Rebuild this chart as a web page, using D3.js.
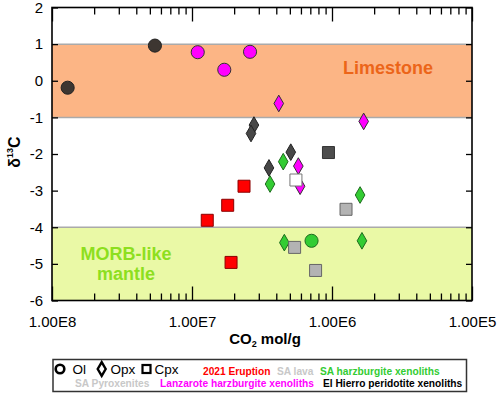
<!DOCTYPE html>
<html>
<head>
  <meta charset="utf-8">
  <style>
    body { margin: 0; background: #fff; }
    svg { font-family: "Liberation Sans", Arial, sans-serif; }
  </style>
  <title>d13C vs CO2</title>
</head>
<body>
  <script src="https://cdn.jsdelivr.net/npm/d3@7"></script>
  <svg width="498" height="394"></svg>

  <script>
    // x axis ticks (log, reversed) and y ticks
    var xMajor = [1e8, 1e7, 1e6, 1e5],
        xLabels = ["1.00E8", "1.00E7", "1.00E6", "1.00E5"],
        yTicks = [-6, -5, -4, -3, -2, -1, 0, 1, 2];

    // data: [CO2 mol/g, d13C]
    var elHierroOl  = [[7.73e7, -0.19], [1.84e7, 0.96]];
    var elHierroOpx = [[3.61e6, -1.21], [3.79e6, -1.44], [1.97e6, -1.95], [2.82e6, -2.38]];
    var elHierroCpx = [[1.06e6, -1.96]];
    var lanzaroteOl  = [[9.1e6, 0.78], [5.88e6, 0.30], [3.85e6, 0.79]];
    var lanzaroteOpx = [[2.40e6, -0.62], [5.94e5, -1.11], [1.74e6, -2.33], [1.69e6, -2.88]];
    var saHarzOl  = [[1.40e6, -4.37]];
    var saHarzOpx = [[2.23e6, -2.21], [2.77e6, -2.82], [6.3e5, -3.12], [2.19e6, -4.42], [6.11e5, -4.37]];
    var saLavaCpx = [[1.81e6, -2.71]];
    var saPyroxCpx = [[7.94e5, -3.51], [1.85e6, -4.55], [1.31e6, -5.18]];
    var eruptionCpx = [[4.25e6, -2.88], [5.56e6, -3.40], [7.78e6, -3.81], [5.26e6, -4.96]];

    var svg = d3.select("svg");
    var pLeft = 52, pRight = 472, pTop = 7.5, pBottom = 300.5;

    var x = d3.scaleLog().domain([1e8, 1e5]).range([pLeft, pRight]),
        y = d3.scaleLinear().domain([-6, 2]).range([pBottom, pTop]);

    // minor ticks (mirrored like in the original)
    var xMinor = [];
    [1e8, 1e7, 1e6].forEach(function(D) {
      for (var k = 2; k <= 9; k++) xMinor.push(D / k);
    });

    // bands
    svg.append("rect")
       .attr("x", pLeft).attr("width", pRight - pLeft)
       .attr("y", y(1)).attr("height", y(-1) - y(1))
       .attr("fill", "#fcb585");
    svg.append("rect")
       .attr("x", pLeft).attr("width", pRight - pLeft)
       .attr("y", y(-4)).attr("height", y(-6) - y(-4))
       .attr("fill", "#eaf9a6");
    [1, -1, -4].forEach(function(v) {
      svg.append("line")
         .attr("x1", pLeft).attr("x2", pRight)
         .attr("y1", y(v)).attr("y2", y(v))
         .attr("stroke", "#aaa").attr("stroke-width", 1.5);
    });

    svg.append("text")
       .attr("x", 388).attr("y", 74)
       .attr("text-anchor", "middle")
       .attr("font-weight", "bold").attr("font-size", 18)
       .attr("fill", "#ec6519")
       .text("Limestone");
    svg.append("text")
       .attr("text-anchor", "middle")
       .attr("font-weight", "bold").attr("font-size", 18)
       .attr("fill", "#8ddf1e")
       .selectAll("tspan")
       .data(["MORB-like", "mantle"])
       .enter().append("tspan")
       .attr("x", 126)
       .attr("y", function(d, i) { return 260 + i * 19.5; })
       .text(function(d) { return d; });

    // axes
    function clean(g) { g.select(".domain").remove(); g.selectAll("line").attr("stroke", "#000").attr("stroke-width", 1.3); }

    svg.append("g").attr("transform", "translate(0," + pBottom + ")")
       .call(d3.axisBottom(x).tickValues(xMajor)
             .tickFormat(function(d, i) { return xLabels[i]; })
             .tickSizeInner(-14).tickSizeOuter(0).tickPadding(16))
       .call(clean)
       .selectAll("text").attr("font-size", 15).attr("fill", "#000")
       .attr("font-family", "Liberation Sans, Arial, sans-serif");
    svg.append("g").attr("transform", "translate(0," + pBottom + ")")
       .call(d3.axisBottom(x).tickValues(xMinor).tickFormat("")
             .tickSizeInner(-7).tickSizeOuter(0))
       .call(clean);
    svg.append("g").attr("transform", "translate(0," + pTop + ")")
       .call(d3.axisTop(x).tickValues(xMajor).tickFormat("")
             .tickSizeInner(-14).tickSizeOuter(0))
       .call(clean);
    svg.append("g").attr("transform", "translate(0," + pTop + ")")
       .call(d3.axisTop(x).tickValues(xMinor).tickFormat("")
             .tickSizeInner(-7).tickSizeOuter(0))
       .call(clean);
    svg.append("g").attr("transform", "translate(" + pLeft + ",0)")
       .call(d3.axisLeft(y).tickValues(yTicks)
             .tickFormat(function(d) { return String(d); })
             .tickSizeInner(-6).tickSizeOuter(0).tickPadding(9))
       .call(clean)
       .selectAll("text").attr("font-size", 15).attr("fill", "#000")
       .attr("font-family", "Liberation Sans, Arial, sans-serif");
    svg.append("g").attr("transform", "translate(" + pRight + ",0)")
       .call(d3.axisRight(y).tickValues(yTicks).tickFormat("")
             .tickSizeInner(-6).tickSizeOuter(0))
       .call(clean);

    svg.append("rect")
       .attr("x", pLeft).attr("y", pTop)
       .attr("width", pRight - pLeft).attr("height", pBottom - pTop)
       .attr("fill", "none").attr("stroke", "#000").attr("stroke-width", 1.6);

    // axis titles
    var xt = svg.append("text")
       .attr("x", 265).attr("y", 344)
       .attr("text-anchor", "middle")
       .attr("font-weight", "bold").attr("font-size", 15);
    xt.append("tspan").text("CO");
    xt.append("tspan").attr("font-size", 9).attr("dy", 3).text("2");
    xt.append("tspan").attr("dy", -3).text(" mol/g");

    var yt = svg.append("text")
       .attr("transform", "translate(20,152) rotate(-90)")
       .attr("text-anchor", "middle")
       .attr("font-weight", "bold").attr("font-size", 16);
    yt.append("tspan").text("δ");
    yt.append("tspan").attr("font-size", 9).attr("dy", -7).text("13");
    yt.append("tspan").attr("dy", 7).text("C");

    // points
    var circle = d3.symbol().type(d3.symbolCircle).size(135),
        diamond = d3.symbol().type(d3.symbolDiamond).size(80),
        square = d3.symbol().type(d3.symbolSquare).size(144);

    function plot(data, sym, fill, stroke) {
      svg.append("g").selectAll("path")
         .data(data)
         .enter().append("path")
         .attr("transform", function(d) { return "translate(" + x(d[0]) + "," + y(d[1]) + ")"; })
         .attr("d", sym)
         .attr("fill", fill)
         .attr("stroke", stroke)
         .attr("stroke-width", 1);
    }

    plot(elHierroOl, circle, "#3d3631", "#222");
    plot(elHierroOpx, diamond, "#474747", "#222");
    plot(elHierroCpx, square, "#4d4d4d", "#333");
    plot(lanzaroteOl, circle, "#ff00ff", "#333");
    plot(lanzaroteOpx, diamond, "#ff00ff", "#333");
    plot(saHarzOl, circle, "#33cc33", "#1e6b1e");
    plot(saHarzOpx, diamond, "#33cc33", "#1e6b1e");
    plot(saLavaCpx, square, "#ffffff", "#777");
    plot(saPyroxCpx, square, "#b3b3b3", "#666");
    plot(eruptionCpx, square, "#ff0000", "#8b0000");

    // legend
    svg.append("rect")
       .attr("x", 53).attr("y", 359.5).attr("width", 413.5).attr("height", 32)
       .attr("fill", "#fff").attr("stroke", "#333").attr("stroke-width", 1.5);

    svg.append("circle").attr("cx", 60).attr("cy", 369).attr("r", 4.3)
       .attr("fill", "none").attr("stroke", "#000").attr("stroke-width", 2.6);
    svg.append("path").attr("transform", "translate(101.7,369)")
       .attr("d", d3.symbol().type(d3.symbolDiamond).size(55))
       .attr("fill", "none").attr("stroke", "#000").attr("stroke-width", 2.4);
    svg.append("rect").attr("x", 142.5).attr("y", 365).attr("width", 8).attr("height", 8)
       .attr("fill", "none").attr("stroke", "#000").attr("stroke-width", 2.2);

    var shapeLabels = [["Ol", 72.5], ["Opx", 110.5], ["Cpx", 154.5]];
    svg.selectAll(".shapeLabel")
       .data(shapeLabels)
       .enter().append("text")
       .attr("x", function(d) { return d[1]; })
       .attr("y", 373.8)
       .attr("font-size", 13.5)
       .text(function(d) { return d[0]; });

    var groupLabels = [
      ["2021 Eruption", 203, 374.5, "#ff0000"],
      ["SA lava", 277, 374.5, "#c8c8c8"],
      ["SA harzburgite xenoliths", 320, 374.5, "#33cc33"],
      ["SA Pyroxenites", 75, 387, "#c8c8c8"],
      ["Lanzarote harzburgite xenoliths", 160, 387, "#ff00ff"],
      ["El Hierro peridotite xenoliths", 323, 387, "#000000"]
    ];
    svg.selectAll(".groupLabel")
       .data(groupLabels)
       .enter().append("text")
       .attr("x", function(d) { return d[1]; })
       .attr("y", function(d) { return d[2]; })
       .attr("font-size", 10.2)
       .attr("font-weight", "bold")
       .attr("fill", function(d) { return d[3]; })
       .text(function(d) { return d[0]; });
  </script>
</body>
</html>
